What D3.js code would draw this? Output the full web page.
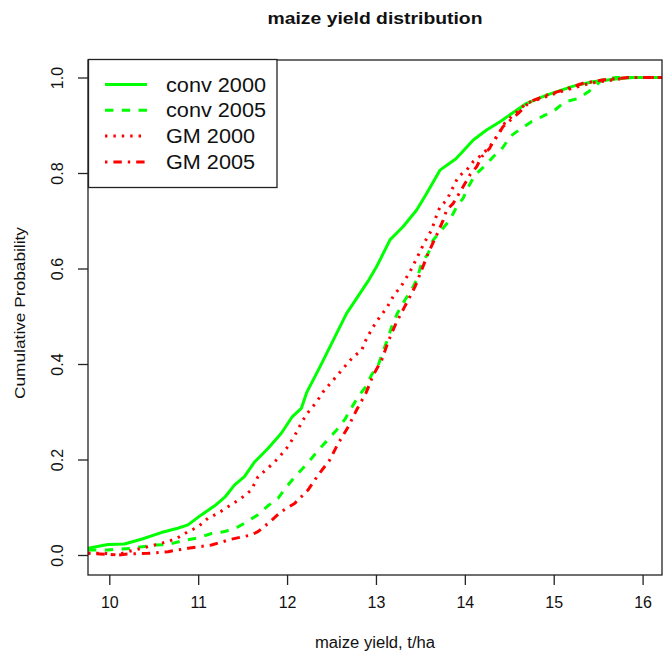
<!DOCTYPE html>
<html><head><meta charset="utf-8">
<script src="https://cdn.jsdelivr.net/npm/d3@7"></script>
<style>html,body{margin:0;padding:0;background:#fff;} svg{display:block;}</style>
</head><body>
<script>
// ---- data ----
const title = "maize yield distribution";
const xLabel = "maize yield, t/ha";
const yLabel = "Cumulative Probability";
const xTicks = [10, 11, 12, 13, 14, 15, 16];
const yTicks = [0, 0.2, 0.4, 0.6, 0.8, 1.0];
const seriesNames = ["conv 2000", "conv 2005", "GM 2000", "GM 2005"];

const conv2000X = [9.76,9.985,10.17,10.36,10.585,10.77,10.885,11.035,11.185,11.30,11.41,11.52,11.635,11.785,11.935,12.06,12.16,12.22,12.37,12.52,12.67,12.82,12.913,13.008,13.158,13.307,13.458,13.57,13.72,13.90,13.95,14.095,14.245,14.40,14.695,14.92,15.22,15.44,15.745,15.89,16.3];
const conv2000P = [0.014,0.022,0.023,0.033,0.047,0.056,0.063,0.084,0.103,0.121,0.147,0.164,0.195,0.223,0.255,0.29,0.307,0.34,0.394,0.45,0.506,0.548,0.574,0.604,0.660,0.688,0.7225,0.757,0.806,0.83,0.84,0.869,0.890,0.908,0.946,0.963,0.982,0.991,0.998,1.0,1.0];

const conv2005X = [9.76,9.985,10.25,10.51,10.66,10.85,11.0,11.15,11.30,11.45,11.56,11.67,11.785,11.90,11.99,12.085,12.18,12.277,12.37,12.463,12.558,12.65,12.727,12.80,12.887,12.95,13.026,13.08,13.127,13.177,13.24,13.326,13.40,13.458,13.514,13.588,13.645,13.74,13.83,13.908,13.98,14.04,14.114,14.226,14.32,14.43,14.507,14.62,14.75,14.88,15.013,15.126,15.275,15.39,15.48,15.54,15.63,15.70,16.3];
const conv2005P = [0.0105,0.0105,0.014,0.021,0.022,0.031,0.036,0.045,0.049,0.059,0.071,0.084,0.103,0.119,0.142,0.163,0.182,0.2025,0.2235,0.242,0.262,0.284,0.309,0.3315,0.3525,0.377,0.398,0.426,0.450,0.478,0.506,0.534,0.555,0.576,0.611,0.632,0.660,0.681,0.7015,0.729,0.747,0.771,0.796,0.815,0.834,0.854,0.876,0.8915,0.9075,0.919,0.932,0.949,0.956,0.970,0.984,0.995,0.998,1.0,1.0];

const gm2000X = [9.76,9.95,10.08,10.21,10.36,10.51,10.66,10.77,10.885,11.0,11.11,11.22,11.335,11.485,11.597,11.673,11.785,11.90,12.01,12.10,12.16,12.22,12.333,12.407,12.52,12.632,12.745,12.84,12.895,12.97,13.045,13.12,13.214,13.27,13.307,13.382,13.458,13.55,13.627,13.683,13.72,13.795,13.87,13.926,14.02,14.095,14.19,14.28,14.376,14.45,14.695,15.07,15.41,15.71,15.82,16.3];
const gm2000P = [0.0035,0.0035,0.0,0.007,0.014,0.021,0.028,0.036,0.049,0.059,0.077,0.087,0.101,0.119,0.136,0.164,0.182,0.2025,0.227,0.255,0.276,0.295,0.321,0.342,0.3665,0.391,0.415,0.429,0.454,0.478,0.499,0.517,0.548,0.5585,0.570,0.593,0.621,0.656,0.681,0.712,0.729,0.743,0.771,0.792,0.806,0.824,0.838,0.855,0.880,0.905,0.946,0.970,0.988,0.996,1.0,1.0];

const gm2005X = [9.76,10.1,10.21,10.435,10.66,10.885,11.15,11.37,11.597,11.673,11.785,11.935,12.085,12.235,12.35,12.48,12.576,12.69,12.783,12.887,12.97,13.064,13.138,13.225,13.315,13.382,13.44,13.514,13.588,13.683,13.757,13.795,13.87,13.98,14.057,14.133,14.19,14.28,14.32,14.43,14.6,14.73,14.92,15.107,15.33,15.595,15.857,16.3];
const gm2005P = [0.0035,0.0,0.002,0.0035,0.007,0.014,0.021,0.033,0.042,0.049,0.066,0.091,0.108,0.136,0.1675,0.199,0.234,0.269,0.304,0.339,0.377,0.408,0.447,0.485,0.517,0.541,0.562,0.597,0.632,0.670,0.7015,0.7225,0.7365,0.771,0.796,0.813,0.834,0.852,0.866,0.897,0.925,0.949,0.963,0.974,0.988,0.996,1.0,1.0];

const seriesX = [conv2000X, conv2005X, gm2000X, gm2005X];
const seriesP = [conv2000P, conv2005P, gm2000P, gm2005P];
const seriesColor = ["#00ff00", "#00ff00", "#ff0000", "#ff0000"];
const seriesDash = [null, "8.4,8.4", "2.4,6", "2.4,6,8.4,6"];

// ---- layout ----
const W = 663, H = 654;
const frame = {left: 88, right: 662, top: 60, bottom: 575};

const x = d3.scaleLinear().domain([10, 16]).range([109.3, 642.6]);
const y = d3.scaleLinear().domain([0, 1]).range([555, 77.5]);

const svg = d3.select("body").append("svg").attr("width", W).attr("height", H)
  .style("font-family", "'Liberation Sans', Arial, sans-serif");

svg.append("defs").append("clipPath").attr("id", "clip")
  .append("rect").attr("x", frame.left).attr("y", frame.top)
  .attr("width", frame.right - frame.left).attr("height", frame.bottom - frame.top);

// curves
const line = d3.line().x(d => x(d[0])).y(d => y(d[1]));
const g = svg.append("g").attr("clip-path", "url(#clip)");
seriesX.forEach((xs, i) => {
  const pts = xs.map((v, j) => [v, seriesP[i][j]]);
  const p = g.append("path").datum(pts).attr("d", line)
    .attr("fill", "none").attr("stroke", seriesColor[i]).attr("stroke-width", 3)
    .attr("stroke-linejoin", "round");
  if (seriesDash[i]) p.attr("stroke-dasharray", seriesDash[i]);
});

// frame
svg.append("rect").attr("x", frame.left).attr("y", frame.top)
  .attr("width", frame.right - frame.left).attr("height", frame.bottom - frame.top)
  .attr("fill", "none").attr("stroke", "#222").attr("stroke-width", 1.3);

// x axis
const xAxis = d3.axisBottom(x).tickValues(xTicks).tickSize(10).tickPadding(12).tickFormat(d3.format("d"));
const gx = svg.append("g").attr("transform", `translate(0,${frame.bottom})`).call(xAxis);
gx.select(".domain").remove();
gx.selectAll(".tick line").attr("stroke", "#222").attr("stroke-width", 1.3);
gx.selectAll(".tick text").attr("font-size", 16).attr("fill", "#111")
  .attr("font-family", "'Liberation Sans', Arial, sans-serif");

// y axis
const yAxis = d3.axisLeft(y).tickValues(yTicks).tickSize(10).tickFormat(d3.format(".1f"));
const gy = svg.append("g").attr("transform", `translate(${frame.left},0)`).call(yAxis);
gy.select(".domain").remove();
gy.selectAll(".tick line").attr("stroke", "#222").attr("stroke-width", 1.3);
gy.selectAll(".tick text").attr("font-size", 16).attr("fill", "#111")
  .attr("font-family", "'Liberation Sans', Arial, sans-serif")
  .attr("x", null).attr("dy", null)
  .attr("text-anchor", "middle")
  .attr("transform", "translate(-25,0) rotate(-90)");

// title
svg.append("text").attr("x", 375).attr("y", 24).attr("text-anchor", "middle")
  .attr("font-size", 16).attr("font-weight", "bold").attr("fill", "#111")
  .attr("textLength", 215).attr("lengthAdjust", "spacingAndGlyphs").text(title);

// axis labels
svg.append("text").attr("x", 375).attr("y", 648).attr("text-anchor", "middle")
  .attr("font-size", 16).attr("fill", "#111")
  .attr("textLength", 120).attr("lengthAdjust", "spacingAndGlyphs").text(xLabel);
svg.append("text").attr("transform", "translate(25,313) rotate(-90)").attr("text-anchor", "middle")
  .attr("font-size", 15).attr("fill", "#111")
  .attr("textLength", 172).attr("lengthAdjust", "spacingAndGlyphs").text(yLabel);

// legend
const leg = svg.append("g");
leg.append("rect").attr("x", 88.5).attr("y", 59.5).attr("width", 188.5).attr("height", 128)
  .attr("fill", "#fff").attr("stroke", "#222").attr("stroke-width", 1.3);
const legLen = [100, 100, 89, 89];
seriesNames.forEach((name, i) => {
  const ry = 84.5 + i * 25.8;
  const l = leg.append("line").attr("x1", 105).attr("x2", 147).attr("y1", ry).attr("y2", ry)
    .attr("stroke", seriesColor[i]).attr("stroke-width", 3);
  if (seriesDash[i]) l.attr("stroke-dasharray", seriesDash[i]);
  leg.append("text").attr("x", 166).attr("y", ry + 7).attr("font-size", 19.5).attr("fill", "#111")
    .attr("textLength", legLen[i]).attr("lengthAdjust", "spacingAndGlyphs").text(name);
});
</script>
</body></html>
